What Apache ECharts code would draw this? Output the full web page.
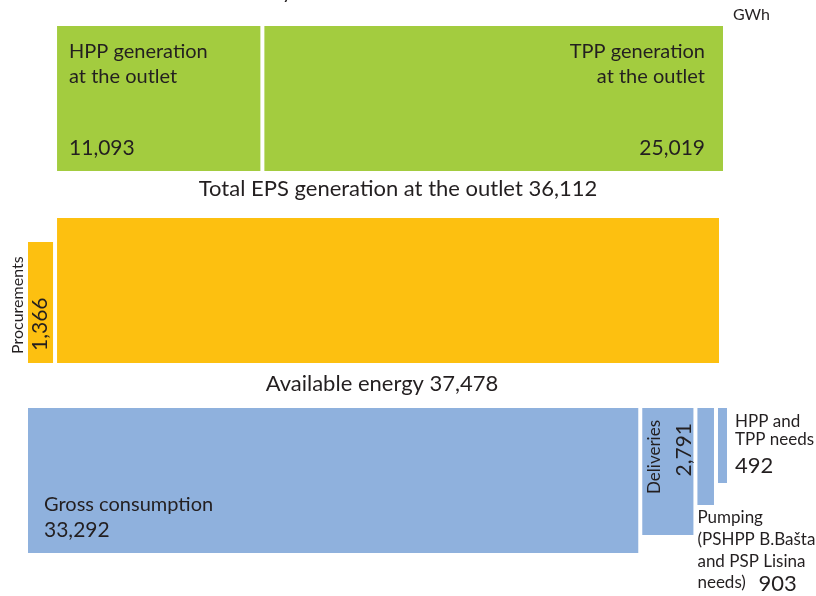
<!DOCTYPE html>
<html>
<head>
<meta charset="utf-8">
<script src="https://cdn.jsdelivr.net/npm/echarts@6/dist/echarts.min.js"></script>
<style>
html,body{margin:0;padding:0;background:#fff;}
#chart{width:816px;height:596px;}
</style>
</head>
<body>
<div id="chart"></div>
<script>
// ---- DATA (GWh) ----
var unitLabel = 'GWh';
var generationCategories = ['HPP generation\nat the outlet', 'TPP generation\nat the outlet'];
var generationValues = [11093, 25019];
var availableCategories = ['Procurements', 'Total EPS generation at the outlet'];
var availableValues = [1366, 36112];
var consumptionCategories = ['Gross consumption', 'Deliveries', 'Pumping\n(PSHPP B.Bašta\nand PSP Lisina\nneeds)', 'HPP and\nTPP needs'];
var consumptionValues = [33292, 2791, 903, 492];
var generationTotalTitle = 'Total EPS generation at the outlet';
var availableTotalTitle = 'Available energy';

// ---- LAYOUT / STYLE ----
var GAP = 4;
var TEXT = '#231f20';
var FONT = 'Lato';
var colors = { generation: '#a3cc3f', available: '#fdc010', consumption: '#8fb1dd' };
var rowTop = { generation: 26, available: 218, consumption: 408 };
var rowHeight = 145;
var availableHeights = [121, 145];           // bottom aligned
var consumptionHeights = [145, 127, 97, 75]; // top aligned

function fmt(v) { return v.toLocaleString('en-US'); }
function sum(a) { return a.reduce(function (s, v) { return s + v; }, 0); }
function spans(values, offset) {
  var out = [], c = offset || 0;
  values.forEach(function (v, i) { out.push([c, c + v, i, v]); c += v; });
  return out;
}

var chart = echarts.init(document.getElementById('chart'), null, { renderer: 'canvas' });

function rectFor(api, gapOffset) {
  var s = api.value(0), e = api.value(1), i = api.value(2);
  var x0 = api.coord([s, 0])[0] + (i + gapOffset) * GAP;
  var x1 = api.coord([e, 0])[0] + (i + gapOffset) * GAP;
  return { x0: x0, x1: x1, i: i, v: api.value(3) };
}
function yPix(api, y) { return api.coord([0, y])[1]; }
function txt(x, y, text, size, align, vAlign, rot) {
  var el = { type: 'text', x: x, y: y, style: { text: text, fill: TEXT, font: size + 'px ' + FONT, align: align || 'left', verticalAlign: vAlign || 'middle' } };
  if (rot) { el.rotation = rot; }
  return el;
}

var generationSeries = {
  type: 'custom', name: 'generation', clip: false,
  data: spans(generationValues, availableValues[0]),
  renderItem: function (params, api) {
    var r = rectFor(api, 1);
    var top = yPix(api, rowTop.generation), bot = yPix(api, rowTop.generation + rowHeight);
    var children = [{ type: 'rect', shape: { x: r.x0, y: top, width: r.x1 - r.x0, height: bot - top }, style: { fill: colors.generation } }];
    var lines = generationCategories[r.i].split('\n');
    if (r.i === 0) {
      children.push(txt(r.x0 + 12, top + 26, lines[0], 20));
      children.push(txt(r.x0 + 12, top + 51, lines[1], 20));
      children.push(txt(r.x0 + 12, top + 122, fmt(r.v), 21));
    } else {
      children.push(txt(r.x1 - 18, top + 26, lines[0], 20, 'right'));
      children.push(txt(r.x1 - 18, top + 51, lines[1], 20, 'right'));
      children.push(txt(r.x1 - 18, top + 122, fmt(r.v), 21, 'right'));
    }
    return { type: 'group', children: children };
  }
};

var availableSeries = {
  type: 'custom', name: 'available', clip: false,
  data: spans(availableValues, 0),
  renderItem: function (params, api) {
    var r = rectFor(api, 0);
    var bot = yPix(api, rowTop.available + rowHeight);
    var top = yPix(api, rowTop.available + rowHeight - availableHeights[r.i]);
    var children = [{ type: 'rect', shape: { x: r.x0, y: top, width: r.x1 - r.x0, height: bot - top }, style: { fill: colors.available } }];
    if (r.i === 0) {
      children.push(txt(r.x0 - 10, bot - 9, availableCategories[0], 16, 'left', 'middle', Math.PI / 2));
      children.push(txt((r.x0 + r.x1) / 2, bot - 12, fmt(r.v), 21, 'left', 'middle', Math.PI / 2));
    }
    return { type: 'group', children: children };
  }
};

var consumptionSeries = {
  type: 'custom', name: 'consumption', clip: false,
  data: spans(consumptionValues, 0),
  renderItem: function (params, api) {
    var r = rectFor(api, 0);
    var top = yPix(api, rowTop.consumption);
    var bot = yPix(api, rowTop.consumption + consumptionHeights[r.i]);
    var children = [{ type: 'rect', shape: { x: r.x0, y: top, width: r.x1 - r.x0, height: bot - top }, style: { fill: colors.consumption } }];
    var lines = consumptionCategories[r.i].split('\n');
    if (r.i === 0) {
      children.push(txt(r.x0 + 16, top + 97, lines[0], 20));
      children.push(txt(r.x0 + 16, top + 122, fmt(r.v), 21));
    } else if (r.i === 1) {
      children.push(txt(r.x0 + 12, top + 12, lines[0], 17, 'right', 'middle', Math.PI / 2));
      children.push(txt(r.x1 - 9, top + 15, fmt(r.v), 21, 'right', 'middle', Math.PI / 2));
    } else if (r.i === 2) {
      var ly = [110, 132, 154, 175];
      lines.forEach(function (l, k) { children.push(txt(r.x0, top + ly[k], l, 17)); });
      children.push(txt(r.x0 + 61, top + 176, fmt(r.v), 22));
    } else {
      children.push(txt(r.x1 + 8, top + 14, lines[0], 17));
      children.push(txt(r.x1 + 8, top + 32, lines[1], 17));
      children.push(txt(r.x1 + 8, top + 58, fmt(r.v), 22));
    }
    return { type: 'group', children: children };
  }
};

var option = {
  animation: false,
  backgroundColor: '#ffffff',
  grid: { left: 28, top: 0, width: 687, height: 596 },
  xAxis: { type: 'value', min: 0, max: sum(consumptionValues), show: false },
  yAxis: { type: 'value', min: 0, max: 596, inverse: true, show: false },
  graphic: [
    { type: 'text', left: 733, top: 7, style: { text: unitLabel, fill: TEXT, font: '16px ' + FONT } },
    { type: 'text', x: 282, y: -7, style: { text: 'y', fill: TEXT, font: '20px ' + FONT, verticalAlign: 'middle' } },
    { type: 'text', x: 398, y: 189, style: { text: generationTotalTitle + ' ' + fmt(sum(generationValues)), fill: TEXT, font: '22px ' + FONT, align: 'center', verticalAlign: 'middle' } },
    { type: 'text', x: 382, y: 384, style: { text: availableTotalTitle + ' ' + fmt(sum(availableValues)), fill: TEXT, font: '22px ' + FONT, align: 'center', verticalAlign: 'middle' } }
  ],
  series: [generationSeries, availableSeries, consumptionSeries]
};
chart.setOption(option);
</script>
</body>
</html>
